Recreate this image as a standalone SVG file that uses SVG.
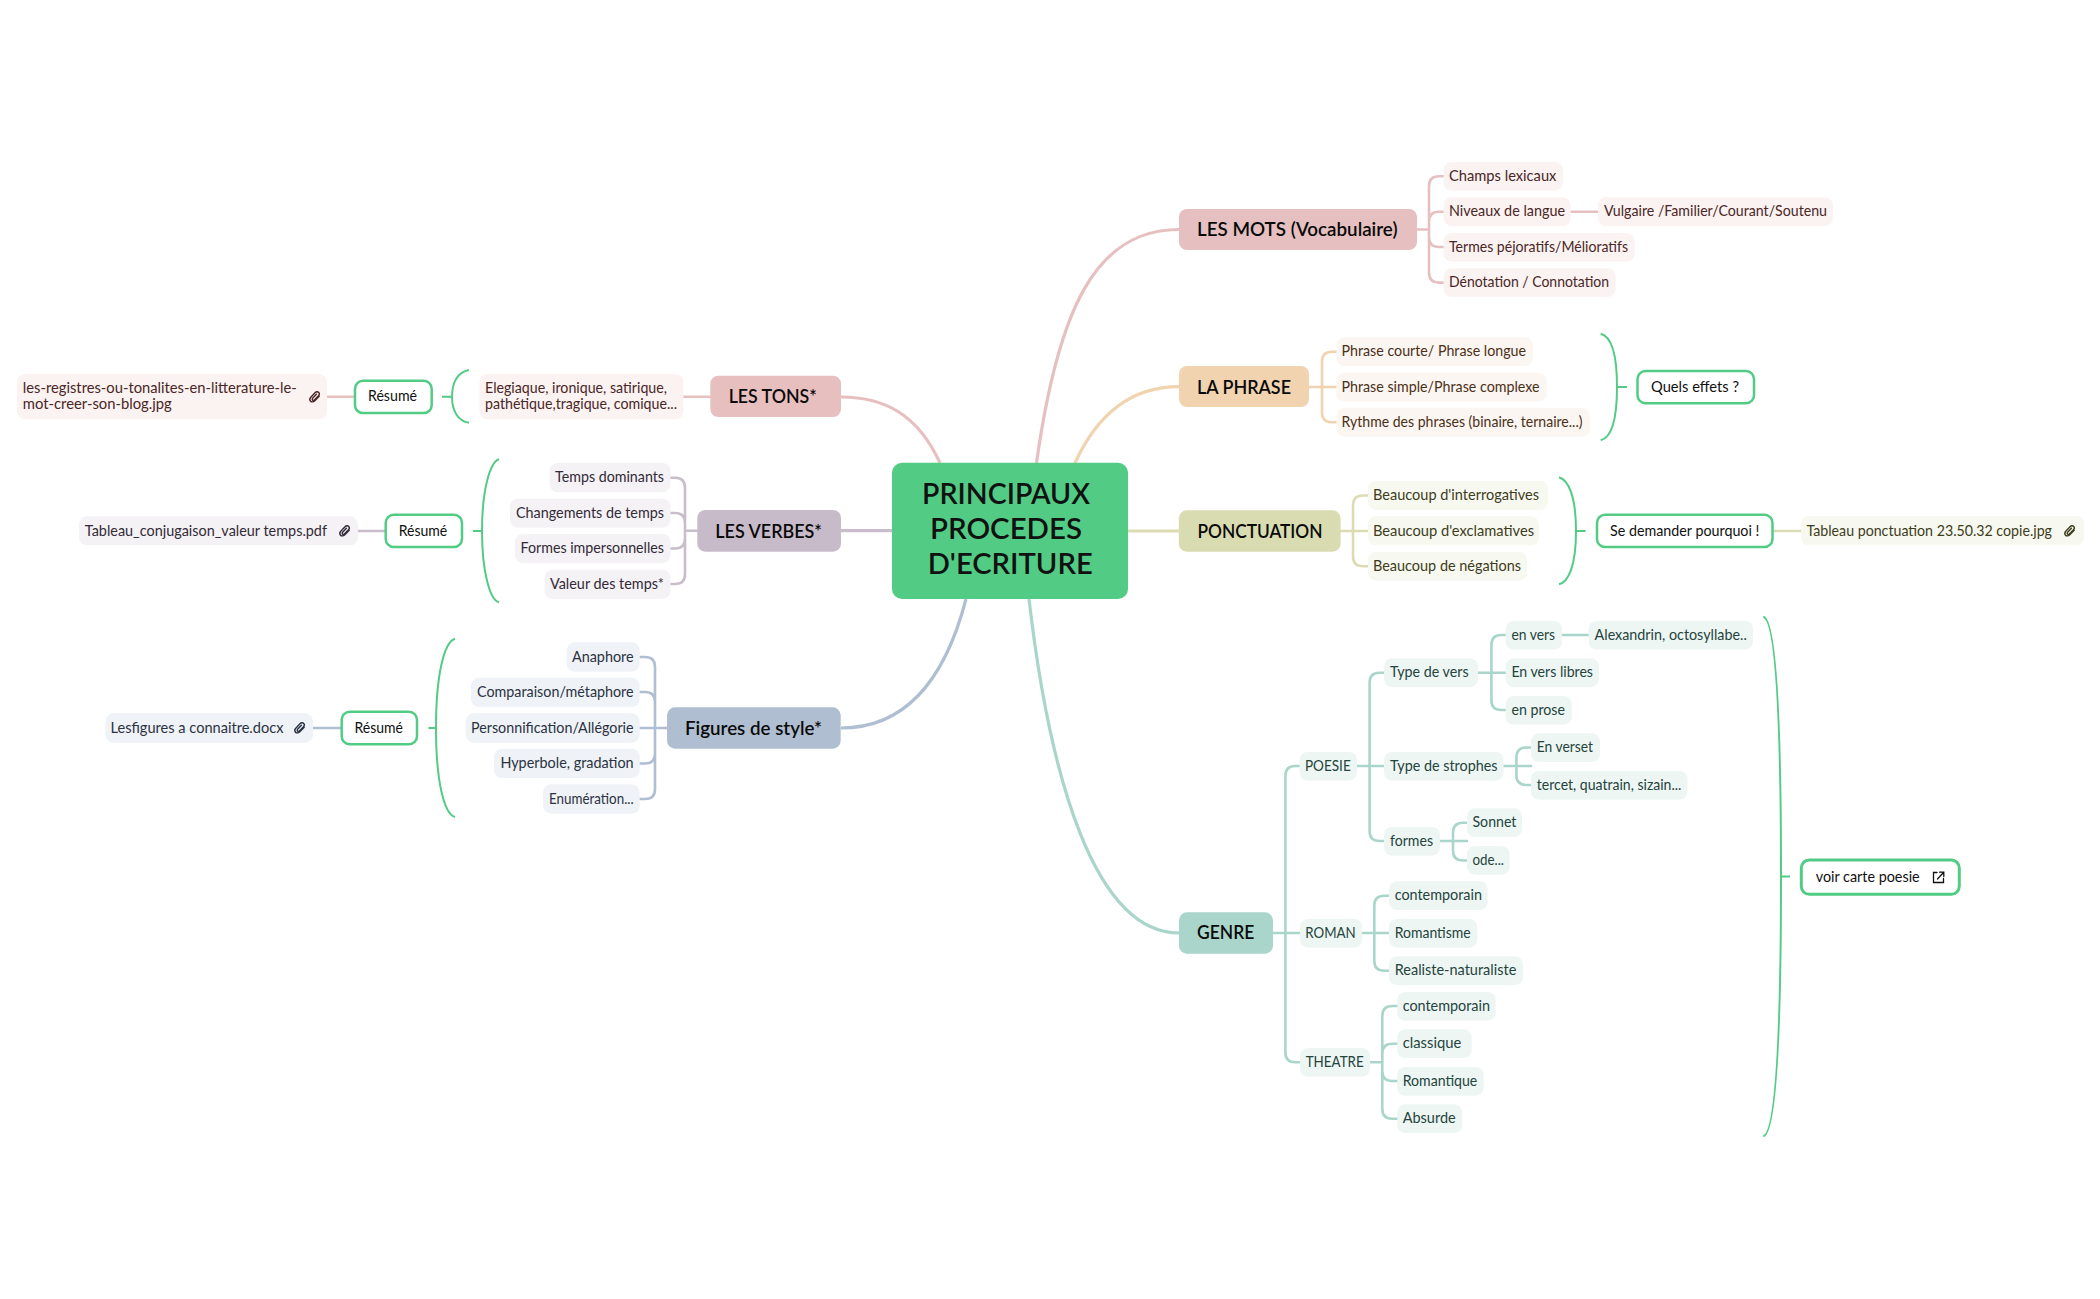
<svg xmlns="http://www.w3.org/2000/svg" xmlns:xlink="http://www.w3.org/1999/xlink" width="2100" height="1299" viewBox="0 0 2100 1299">
<style>
text{font-family:"Lato","Noto Sans",sans-serif}
.l{fill:none;stroke-width:2.6;stroke-linecap:round}
.m{fill:none;stroke-width:3.2}
.pink{stroke:#e6c0c0}.peach{stroke:#f1d3b0}.olive{stroke:#dcdcb4}.teal{stroke:#a9d5ca}.blue{stroke:#afbfd1}.mauve{stroke:#c9bccb}
.br{fill:none;stroke:#52cc85;stroke-width:2}
.root{fill:#52cc85}
.t0{font-size:29px;font-weight:600;fill:#111}
.t1{font-size:19px;font-weight:600;fill:#0a0a0a}
.t2{font-size:15px}
.res{fill:#fff;stroke:#52cc85;stroke-width:2.5}
.tr{font-size:15px;fill:#111}
.cp rect{fill:#fbf3f2}.cp text{fill:#4a2626}
.cf rect{fill:#fbf6f1}.cf text{fill:#4b3018}
.co rect{fill:#f7f8f0}.co text{fill:#3d3d1c}
.cg rect{fill:#eef6f4}.cg text{fill:#24443c}
.cb rect{fill:#eff2f7}.cb text{fill:#2a3342}
.cm rect{fill:#f4f2f5}.cm text{fill:#332a38}
.clip{fill:none;stroke-width:1.4;stroke-linecap:round}
</style>
<defs>
<symbol id="clip" viewBox="0 0 12 12" overflow="visible"><path d="M10.2 5.2L5.8 9.8C4.4 11.2 2.2 11.2 1.4 10C.5 8.9.9 7 2 5.9L6 1.8C7.2.6 8.8.5 9.7 1.4C10.6 2.3 10.4 3.8 9.3 4.9L5.4 8.9C4.8 9.5 3.9 9.5 3.5 9C3 8.5 3.2 7.6 3.8 7L7.4 3.3"/></symbol>
</defs>
<g id="connectors">
<path class="m pink" d="M1036.5 463C1058 310 1095 229.5 1179 229.5"/>
<path class="m peach" d="M1075 463C1097 415 1130 386.7 1179 386.7"/>
<path class="m olive" d="M1128 531H1179"/>
<path class="m teal" d="M1029 599C1050 780 1095 933 1179 933"/>
<path class="m pink" d="M841 397C885 397 918 415 940 463"/>
<path class="m mauve" d="M841 530.7H892"/>
<path class="m blue" d="M841 728C905 728 945 680 966 599"/>
<g class="pink">
<path class="l pink" d="M1417 229.5H1429M1443.6 176.3H1439Q1429 176.3 1429 186.3V272.6Q1429 282.6 1439 282.6H1443.6M1443.6 211.7H1439Q1429 211.7 1429 221.7V237Q1429 247 1439 247H1443.6M1570.7 211.7H1598"/>
<path class="l pink" d="M683.5 396.7H710.3M327 396.7H355"/>
</g>
<path class="l peach" d="M1309 387H1336.4M1336.4 351.7H1332Q1322 351.7 1322 361.7V412.3Q1322 422.3 1332 422.3H1336.4"/>
<path class="l olive" d="M1340.6 531H1368M1368 495.5H1363Q1353 495.5 1353 505.5V556.3Q1353 566.3 1363 566.3H1368M1772.5 531H1801"/>
<path class="l mauve" d="M697.3 530.7H685M670.5 477.7H675Q685 477.7 685 487.7V574Q685 584 675 584H670.5M670.5 513H675Q685 513 685 523V538.5Q685 548.5 675 548.5H670.5M358 531H385.7"/>
<path class="l blue" d="M667 728H639.7M639.7 657H645Q655 657 655 667V789Q655 799 645 799H639.7M639.7 692H645Q655 692 655 702V753.5Q655 763.5 645 763.5H639.7M313 728H341.7"/>
<path class="l teal" d="M1273 933H1300M1299.6 766H1295.4Q1285.4 766 1285.4 776V1052.3Q1285.4 1062.3 1295.4 1062.3H1300M1357 766H1384M1384 672.7H1379.6Q1369.6 672.7 1369.6 682.7V831Q1369.6 841 1379.6 841H1384M1478 672.7H1505.7M1505.7 635H1501.4Q1491.4 635 1491.4 645V700Q1491.4 710 1501.4 710H1505.7M1562 635H1588.6M1503.6 766H1531M1531 747.5H1526.4Q1516.4 747.5 1516.4 757.5V775Q1516.4 785 1526.4 785H1531M1440 841H1467M1467 822.7H1463Q1453 822.7 1453 832.7V850.5Q1453 860.5 1463 860.5H1467M1362 933H1389M1389 895.7H1384.3Q1374.3 895.7 1374.3 905.7V960.7Q1374.3 970.7 1384.3 970.7H1389M1370 1062.3H1382.3M1397.3 1006H1392.3Q1382.3 1006 1382.3 1016V1108.7Q1382.3 1118.7 1392.3 1118.7H1397.3M1397.3 1043.7H1392.3Q1382.3 1043.7 1382.3 1053.7V1071Q1382.3 1081 1392.3 1081H1397.3"/>
<path class="br" d="M469 370C458 372 452 382 452 396.7C452 411 458 421 469 422.7M452 396.7H442"/>
<path class="br" d="M499 459.3C490 462 482 490 482 531C482 572 490 600 499 602.3M482 531H473"/>
<path class="br" d="M455 638.7C444 642 436 675 436 728C436 781 444 814 455 817M436 728H428.5"/>
<path class="br" d="M1600.7 333.7C1610 336 1617 350 1617 387C1617 424 1610 438 1600.7 440.3M1617 387H1627"/>
<path class="br" d="M1559 477.3C1568 480 1576 495 1576 531C1576 567 1568 582 1559 584.3M1576 531H1585.6"/>
<path class="br" d="M1763.3 616.8C1776 620 1781 720 1781 876.5C1781 1033 1776 1133 1763.3 1136.4M1781 876.5H1790"/>
</g>
<g id="root"><rect class="root" x="892" y="462.7" width="236" height="136.3" rx="10"/>
<text class="t0" x="922" y="504.3" textLength="168" lengthAdjust="spacingAndGlyphs">PRINCIPAUX</text>
<text class="t0" x="930" y="539.3" textLength="152" lengthAdjust="spacingAndGlyphs">PROCEDES</text>
<text class="t0" x="927.7" y="574.3" textLength="165" lengthAdjust="spacingAndGlyphs">D'ECRITURE</text></g>
<g id="mots"><rect x="1179" y="209" width="238" height="41" rx="8" fill="#e6c0c0"/><text class="t1" x="1197" y="236" textLength="200.5" lengthAdjust="spacingAndGlyphs">LES MOTS (Vocabulaire)</text></g>
<g id="phrase"><rect x="1179" y="366" width="130" height="41" rx="8" fill="#f1d3b0"/><text class="t1" x="1197" y="394" textLength="94" lengthAdjust="spacingAndGlyphs">LA PHRASE</text></g>
<g id="ponctuation"><rect x="1178.8" y="510.3" width="161.8" height="41.4" rx="8" fill="#d9dcb0"/><text class="t1" x="1197.5" y="537.7" textLength="125" lengthAdjust="spacingAndGlyphs">PONCTUATION</text></g>
<g id="genre"><rect x="1179" y="912.3" width="94" height="41.4" rx="8" fill="#a9d5ca"/><text class="t1" x="1197" y="939.3" textLength="57.3" lengthAdjust="spacingAndGlyphs">GENRE</text></g>
<g id="tons"><rect x="710.3" y="375.7" width="130.7" height="41.3" rx="8" fill="#e8bfbf"/><text class="t1" x="728.7" y="402.7" textLength="88" lengthAdjust="spacingAndGlyphs">LES TONS*</text></g>
<g id="verbes"><rect x="697.3" y="510" width="143.7" height="41.7" rx="8" fill="#c8bbc9"/><text class="t1" x="715.3" y="537.7" textLength="106.7" lengthAdjust="spacingAndGlyphs">LES VERBES*</text></g>
<g id="figures"><rect x="667" y="707.3" width="173.7" height="41.4" rx="8" fill="#afbfd1"/><text class="t1" x="685" y="735" textLength="137" lengthAdjust="spacingAndGlyphs">Figures de style*</text></g>
<g id="m1" class="cp"><rect x="1443.6" y="162" width="119.4" height="28.7" rx="8"/><text class="t2" x="1449" y="181" textLength="107.4" lengthAdjust="spacingAndGlyphs">Champs lexicaux</text></g>
<g id="m2" class="cp"><rect x="1443.6" y="197.3" width="127.1" height="28.7" rx="8"/><text class="t2" x="1449" y="216" textLength="116" lengthAdjust="spacingAndGlyphs">Niveaux de langue</text></g>
<g id="m2a" class="cp"><rect x="1598" y="197.3" width="235" height="28.7" rx="8"/><text class="t2" x="1604" y="216" textLength="223" lengthAdjust="spacingAndGlyphs">Vulgaire /Familier/Courant/Soutenu</text></g>
<g id="m3" class="cp"><rect x="1443.6" y="233" width="191" height="28.7" rx="8"/><text class="t2" x="1449" y="252" textLength="179" lengthAdjust="spacingAndGlyphs">Termes péjoratifs/Mélioratifs</text></g>
<g id="m4" class="cp"><rect x="1443.6" y="268.3" width="172.1" height="28.7" rx="8"/><text class="t2" x="1449" y="287.4" textLength="160" lengthAdjust="spacingAndGlyphs">Dénotation / Connotation</text></g>
<g id="f1" class="cf"><rect x="1336.4" y="337.3" width="196.6" height="28.7" rx="8"/><text class="t2" x="1341.5" y="356" textLength="184.5" lengthAdjust="spacingAndGlyphs">Phrase courte/ Phrase longue</text></g>
<g id="f2" class="cf"><rect x="1336.4" y="372.7" width="210.4" height="28.7" rx="8"/><text class="t2" x="1341.5" y="391.8" textLength="198" lengthAdjust="spacingAndGlyphs">Phrase simple/Phrase complexe</text></g>
<g id="f3" class="cf"><rect x="1336.4" y="408" width="253.6" height="28.7" rx="8"/><text class="t2" x="1341.5" y="427.1" textLength="241" lengthAdjust="spacingAndGlyphs">Rythme des phrases (binaire, ternaire...)</text></g>
<g id="effets"><rect class="res" x="1637.5" y="371" width="116.5" height="32.3" rx="8"/><text class="tr" x="1651" y="392" textLength="88" lengthAdjust="spacingAndGlyphs">Quels effets ?</text></g>
<g id="o1" class="co"><rect x="1368" y="481" width="180" height="29" rx="8"/><text class="t2" x="1373" y="500.3" textLength="166" lengthAdjust="spacingAndGlyphs">Beaucoup d'interrogatives</text></g>
<g id="o2" class="co"><rect x="1368" y="516.3" width="171" height="29" rx="8"/><text class="t2" x="1373" y="535.8" textLength="161" lengthAdjust="spacingAndGlyphs">Beaucoup d'exclamatives</text></g>
<g id="o3" class="co"><rect x="1368" y="552" width="159" height="28.7" rx="8"/><text class="t2" x="1373" y="571.1" textLength="148" lengthAdjust="spacingAndGlyphs">Beaucoup de négations</text></g>
<g id="pourquoi"><rect class="res" x="1597" y="514.7" width="175.5" height="32.3" rx="8"/><text class="tr" x="1610" y="536" textLength="149.4" lengthAdjust="spacingAndGlyphs">Se demander pourquoi !</text></g>
<g id="o4" class="co"><rect x="1801" y="516" width="283" height="29.3" rx="8"/><text class="t2" x="1806.5" y="535.8" textLength="245.5" lengthAdjust="spacingAndGlyphs">Tableau ponctuation 23.50.32 copie.jpg</text><use href="#clip" xlink:href="#clip" class="clip" x="2064" y="525" width="12" height="12" stroke="#3d3d1c"/></g>
<g id="g-poesie" class="cg"><rect x="1299.6" y="752" width="57.4" height="28.7" rx="8"/><text class="t2" x="1305" y="771" textLength="45.7" lengthAdjust="spacingAndGlyphs">POESIE</text></g>
<g id="g-vers" class="cg"><rect x="1384" y="658.3" width="94" height="28.7" rx="8"/><text class="t2" x="1390" y="677" textLength="78.6" lengthAdjust="spacingAndGlyphs">Type de vers</text></g>
<g id="g-strophes" class="cg"><rect x="1384" y="752" width="119.6" height="28.7" rx="8"/><text class="t2" x="1390" y="771" textLength="107.5" lengthAdjust="spacingAndGlyphs">Type de strophes</text></g>
<g id="g-formes" class="cg"><rect x="1384" y="827" width="56" height="28.7" rx="8"/><text class="t2" x="1390" y="846" textLength="43" lengthAdjust="spacingAndGlyphs">formes</text></g>
<g id="g-envers" class="cg"><rect x="1505.7" y="621" width="56.3" height="28.7" rx="8"/><text class="t2" x="1511.4" y="640" textLength="43.6" lengthAdjust="spacingAndGlyphs">en vers</text></g>
<g id="g-alex" class="cg"><rect x="1588.6" y="621" width="164.4" height="28.7" rx="8"/><text class="t2" x="1594.6" y="640" textLength="152.2" lengthAdjust="spacingAndGlyphs">Alexandrin, octosyllabe..</text></g>
<g id="g-libres" class="cg"><rect x="1505.7" y="658.3" width="93.3" height="28.7" rx="8"/><text class="t2" x="1511.4" y="677" textLength="81.6" lengthAdjust="spacingAndGlyphs">En vers libres</text></g>
<g id="g-prose" class="cg"><rect x="1505.7" y="696" width="66.1" height="28.7" rx="8"/><text class="t2" x="1511.4" y="715" textLength="53.6" lengthAdjust="spacingAndGlyphs">en prose</text></g>
<g id="g-verset" class="cg"><rect x="1531" y="733.3" width="69" height="28.7" rx="8"/><text class="t2" x="1536.8" y="752.4" textLength="56.2" lengthAdjust="spacingAndGlyphs">En verset</text></g>
<g id="g-tercet" class="cg"><rect x="1531" y="771" width="156.5" height="28.7" rx="8"/><text class="t2" x="1536.8" y="790" textLength="144.6" lengthAdjust="spacingAndGlyphs">tercet, quatrain, sizain...</text></g>
<g id="g-sonnet" class="cg"><rect x="1467" y="808.3" width="55" height="28.7" rx="8"/><text class="t2" x="1472.5" y="827" textLength="43.9" lengthAdjust="spacingAndGlyphs">Sonnet</text></g>
<g id="g-ode" class="cg"><rect x="1467" y="846" width="42.6" height="28.7" rx="8"/><text class="t2" x="1472.5" y="865.2" textLength="31.5" lengthAdjust="spacingAndGlyphs">ode...</text></g>
<g id="g-roman" class="cg"><rect x="1300" y="919" width="62" height="28.7" rx="8"/><text class="t2" x="1305.3" y="938.2" textLength="50.4" lengthAdjust="spacingAndGlyphs">ROMAN</text></g>
<g id="g-rc" class="cg"><rect x="1389" y="881.3" width="98.7" height="28.7" rx="8"/><text class="t2" x="1394.7" y="900" textLength="87.3" lengthAdjust="spacingAndGlyphs">contemporain</text></g>
<g id="g-rr" class="cg"><rect x="1389" y="919" width="88.3" height="28.7" rx="8"/><text class="t2" x="1394.7" y="938" textLength="76" lengthAdjust="spacingAndGlyphs">Romantisme</text></g>
<g id="g-rn" class="cg"><rect x="1389" y="956.3" width="134" height="28.7" rx="8"/><text class="t2" x="1394.7" y="975.2" textLength="121.6" lengthAdjust="spacingAndGlyphs">Realiste-naturaliste</text></g>
<g id="g-theatre" class="cg"><rect x="1300" y="1048" width="70" height="28.7" rx="8"/><text class="t2" x="1305.7" y="1067.3" textLength="58" lengthAdjust="spacingAndGlyphs">THEATRE</text></g>
<g id="g-tc" class="cg"><rect x="1397.3" y="992" width="98.4" height="28.7" rx="8"/><text class="t2" x="1402.7" y="1011" textLength="87.3" lengthAdjust="spacingAndGlyphs">contemporain</text></g>
<g id="g-tk" class="cg"><rect x="1397.3" y="1029.3" width="74.4" height="28.7" rx="8"/><text class="t2" x="1402.7" y="1048.4" textLength="58.6" lengthAdjust="spacingAndGlyphs">classique</text></g>
<g id="g-tr" class="cg"><rect x="1397.3" y="1067" width="86.4" height="28.7" rx="8"/><text class="t2" x="1402.7" y="1086" textLength="74.6" lengthAdjust="spacingAndGlyphs">Romantique</text></g>
<g id="g-ta" class="cg"><rect x="1397.3" y="1104.3" width="65" height="28.7" rx="8"/><text class="t2" x="1402.7" y="1122.8" textLength="53" lengthAdjust="spacingAndGlyphs">Absurde</text></g>
<g id="voir"><rect class="res" style="stroke-width:3" x="1801.3" y="860" width="158" height="34.3" rx="8"/><text class="tr" x="1815.7" y="882" textLength="104" lengthAdjust="spacingAndGlyphs">voir carte poesie</text><path d="M1937 872.5H1933.5V882.5H1943.5V878.5M1937.5 879L1943.5 872.5M1939.5 872.2H1943.8V876.5" fill="none" stroke="#111" stroke-width="1.3" stroke-linecap="round"/></g>
<g id="t1" class="cp"><rect x="479.5" y="374" width="204" height="45.3" rx="8"/><text class="t2" x="485" y="392.7" textLength="182" lengthAdjust="spacingAndGlyphs">Elegiaque, ironique, satirique,</text><text class="t2" x="485" y="409" textLength="192" lengthAdjust="spacingAndGlyphs">pathétique,tragique, comique...</text></g>
<g id="r1"><rect class="res" x="355" y="380.7" width="76.7" height="32.4" rx="8"/><text class="tr" x="368" y="401" textLength="49" lengthAdjust="spacingAndGlyphs">Résumé</text></g>
<g id="t2" class="cp"><rect x="17" y="374" width="310" height="45.3" rx="8"/><text class="t2" x="22.8" y="392.7" textLength="274" lengthAdjust="spacingAndGlyphs">les-registres-ou-tonalites-en-litterature-le-</text><text class="t2" x="22.8" y="409" textLength="149" lengthAdjust="spacingAndGlyphs">mot-creer-son-blog.jpg</text><use href="#clip" xlink:href="#clip" class="clip" x="309" y="391" width="12" height="12" stroke="#4a2626"/></g>
<g id="v1" class="cm"><rect x="549.6" y="463" width="120.9" height="29.3" rx="8"/><text class="t2" x="555" y="482" textLength="109" lengthAdjust="spacingAndGlyphs">Temps dominants</text></g>
<g id="v2" class="cm"><rect x="510" y="498.7" width="160.5" height="29" rx="8"/><text class="t2" x="516" y="518" textLength="148" lengthAdjust="spacingAndGlyphs">Changements de temps</text></g>
<g id="v3" class="cm"><rect x="515" y="534" width="155.5" height="29" rx="8"/><text class="t2" x="520.5" y="553.3" textLength="143.5" lengthAdjust="spacingAndGlyphs">Formes impersonnelles</text></g>
<g id="v4" class="cm"><rect x="544.6" y="569.7" width="125.9" height="29" rx="8"/><text class="t2" x="550" y="589" textLength="114" lengthAdjust="spacingAndGlyphs">Valeur des temps*</text></g>
<g id="r2"><rect class="res" x="385.7" y="514.7" width="76.3" height="32.3" rx="8"/><text class="tr" x="398.7" y="535.7" textLength="48.6" lengthAdjust="spacingAndGlyphs">Résumé</text></g>
<g id="v5" class="cm"><rect x="79" y="516.3" width="279" height="29" rx="8"/><text class="t2" x="84.8" y="535.8" textLength="242.2" lengthAdjust="spacingAndGlyphs">Tableau_conjugaison_valeur temps.pdf</text><use href="#clip" xlink:href="#clip" class="clip" x="339" y="525" width="12" height="12" stroke="#332a38"/></g>
<g id="s1" class="cb"><rect x="566.7" y="642.3" width="73" height="29.4" rx="8"/><text class="t2" x="572" y="662" textLength="61.6" lengthAdjust="spacingAndGlyphs">Anaphore</text></g>
<g id="s2" class="cb"><rect x="471" y="677.7" width="168.7" height="29.3" rx="8"/><text class="t2" x="477" y="697" textLength="156.6" lengthAdjust="spacingAndGlyphs">Comparaison/métaphore</text></g>
<g id="s3" class="cb"><rect x="465.7" y="713.3" width="174" height="29.4" rx="8"/><text class="t2" x="471" y="733" textLength="162.6" lengthAdjust="spacingAndGlyphs">Personnification/Allégorie</text></g>
<g id="s4" class="cb"><rect x="494" y="748.7" width="145.7" height="29.3" rx="8"/><text class="t2" x="500.4" y="768.2" textLength="133.2" lengthAdjust="spacingAndGlyphs">Hyperbole, gradation</text></g>
<g id="s5" class="cb"><rect x="543" y="784.3" width="96.7" height="29.4" rx="8"/><text class="t2" x="549" y="804" textLength="84.6" lengthAdjust="spacingAndGlyphs">Enumération...</text></g>
<g id="r3"><rect class="res" x="341.7" y="711.7" width="75.3" height="32.6" rx="8"/><text class="tr" x="354.5" y="732.7" textLength="48.5" lengthAdjust="spacingAndGlyphs">Résumé</text></g>
<g id="s6" class="cb"><rect x="105.5" y="713.3" width="207.5" height="29.4" rx="8"/><text class="t2" x="110.5" y="733" textLength="173" lengthAdjust="spacingAndGlyphs">Lesfigures a connaitre.docx</text><use href="#clip" xlink:href="#clip" class="clip" x="294" y="722" width="12" height="12" stroke="#2a3342"/></g>
</svg>
